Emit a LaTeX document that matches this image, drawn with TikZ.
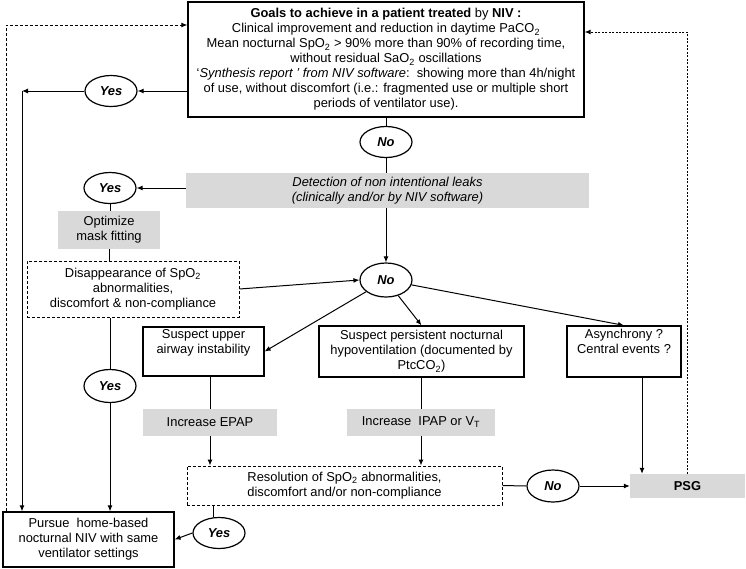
\documentclass[tikz,border=0pt]{standalone}
\usepackage{fontspec}
\setmainfont{Liberation Sans}
\usetikzlibrary{arrows.meta,shapes.geometric}
\definecolor{boxgray}{HTML}{D9D9D9}
\tikzset{
  txt/.style={font=\fontsize{12.9}{15}\selectfont, align=center, inner sep=0pt},
  plainbox/.style={txt, draw, line width=1.2pt},
  dashbox/.style={txt, draw, line width=1.0pt, dash pattern=on 3pt off 2pt},
  graybox/.style={txt, fill=boxgray},
  answer/.style={ellipse, draw, line width=1.2pt, inner sep=0pt,
    minimum width=52pt, minimum height=31pt,
    font=\fontsize{12.9}{15}\selectfont\bfseries\itshape},
  conn/.style={line width=1pt},
  arr/.style={conn, -{Latex[length=6pt,width=5pt]}},
  darr/.style={arr, dash pattern=on 3pt off 2pt},
  dotarr/.style={arr, dash pattern=on 2pt off 1.5pt},
}
\begin{document}
\begin{tikzpicture}[x=1pt,y=-1pt]
\useasboundingbox (0,0) rectangle (746,568);
% boxes
\node[plainbox, minimum width=396pt, minimum height=115pt] (goal) at (386,59.5)
  {\textbf{Goals to achieve in a patient treated} by \textbf{NIV :}\\
   Clinical improvement and reduction in daytime PaCO\textsubscript{2}\\
   Mean nocturnal SpO\textsubscript{2} > 90\% more than 90\% of recording time,\\
   without residual SaO\textsubscript{2} oscillations\\
   `\textit{Synthesis report ' from NIV software}:\ \ showing more than 4h/night\\
   of use, without discomfort (i.e.: fragmented use or multiple short\\
   periods of ventilator use).};
\node[graybox, minimum width=403pt, minimum height=35pt] (leak) at (387.5,190.5)
  {\itshape Detection of non intentional leaks\\\itshape (clinically and/or by NIV software)};
\node[graybox, minimum width=102pt, minimum height=38pt] (mask) at (109,230)
  {Optimize\\mask fitting};
\node[dashbox, minimum width=212pt, minimum height=56pt] (disap) at (133,289)
  {Disappearance of SpO\textsubscript{2}\\abnormalities,\\discomfort \& non-compliance};
\node[plainbox, minimum width=121pt, minimum height=49pt] (upper) at (203.5,351.5)
  {Suspect upper\\airway instability\\\strut};
\node[plainbox, minimum width=205pt, minimum height=51pt] (hypo) at (421.5,351.5)
  {Suspect persistent nocturnal\\hypoventilation (documented by\\PtcCO\textsubscript{2})};
\node[plainbox, minimum width=114pt, minimum height=51pt] (async) at (624,351.5)
  {Asynchrony ?\\Central events ?\\\strut};
\node[graybox, minimum width=134pt, minimum height=27pt] (epap) at (210,422.5)
  {Increase EPAP};
\node[graybox, minimum width=148pt, minimum height=27pt] (ipap) at (421,422.5)
  {Increase\ \ IPAP or V\textsubscript{T}};
\node[dashbox, minimum width=315pt, minimum height=39pt] (resol) at (344.5,485.5)
  {Resolution of SpO\textsubscript{2} abnormalities,\\discomfort and/or non-compliance};
\node[graybox, minimum width=115pt, minimum height=24pt, font=\fontsize{12.9}{15}\selectfont\bfseries] (psg) at (687.5,486)
  {PSG};
\node[plainbox, minimum width=171pt, minimum height=55pt] (pursue) at (88.5,539.5)
  {Pursue\ \ home-based\\nocturnal NIV with same\\ventilator settings};
% answers
\node[answer] (yes1) at (111,91) {Yes};
\node[answer] (no1) at (386,142) {No};
\node[answer] (yes2) at (110,188) {Yes};
\node[answer, minimum height=34pt] (no2) at (386,280) {No};
\node[answer, minimum height=33pt] (yes3) at (110,386) {Yes};
\node[answer, minimum height=32pt] (no3) at (553,486) {No};
\node[answer] (yes4) at (219,533) {Yes};
% helper coordinates
\coordinate (lcol) at (22,91);
\coordinate (dl) at (6,25);
\coordinate (dr) at (687,32);
% connectors
\draw[conn] (goal.south) -- (no1.north);
\draw[conn] (no1.south) -- (leak.north -| no1.south);
\draw[arr] (leak.west |- yes2.east) -- (yes2.east);
\draw[conn] (yes2.south) -- (yes2.south |- mask.north);
\draw[conn] (mask.south) -- (mask.south |- disap.north);
\draw[arr] (disap.east) -- (no2.west);
\draw[arr] (leak.south -| no2.north) -- (no2.north);
\draw[arr] (goal.west |- yes1.east) -- (yes1.east);
\draw[arr] (yes1.west) -- (lcol);
\draw[arr] (lcol) -- (lcol |- pursue.north);
\draw[conn] (yes3.north |- disap.south) -- (yes3.north);
\draw[arr] (yes3.south) -- (yes3.south |- pursue.north);
\draw[arr] (no2) -- (upper.east);
\draw[arr] (no2) -- (hypo.north);
\draw[arr] (no2) -- (async.north);
\draw[conn] (epap.north |- upper.south) -- (epap.north);
\draw[arr] (epap.south) -- (epap.south |- resol.north);
\draw[conn] (ipap.north |- hypo.south) -- (ipap.north);
\draw[arr] (ipap.south) -- (ipap.south |- resol.north);
\draw[arr] ([xshift=18pt]async.south) -- ([xshift=18pt]async.south |- psg.north);
\draw[conn] (resol.east) -- (no3.west);
\draw[arr] (no3.east) -- (psg.west);
\draw[conn] ([xshift=-131.5pt]resol.south) -- ([xshift=-131.5pt]resol.south |- yes4.north);
\draw[arr] (yes4.west) -- (pursue.east);
\draw[darr] (dl |- pursue.north) -- (dl) -- (dl -| goal.west);
\draw[dotarr] (dr |- psg.north) -- (dr) -- (dr -| goal.east);
\end{tikzpicture}
\end{document}
